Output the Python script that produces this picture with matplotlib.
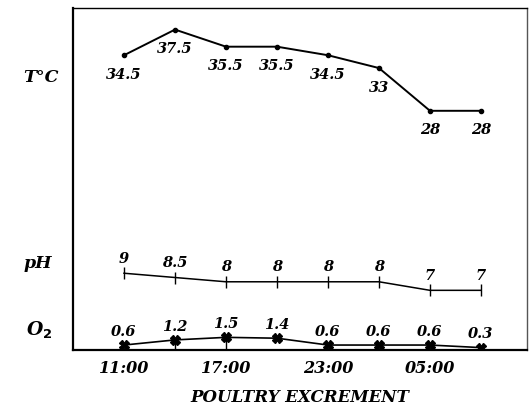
import matplotlib.pyplot as plt
import numpy as np

times = ['11:00', '14:00', '17:00', '20:00', '23:00', '02:00', '05:00', '08:00']
temp = [34.5, 37.5, 35.5, 35.5, 34.5, 33, 28, 28]
ph = [9, 8.5, 8, 8, 8, 8, 7, 7]
o2 = [0.6, 1.2, 1.5, 1.4, 0.6, 0.6, 0.6, 0.3]
temp_labels = ['34.5', '37.5', '35.5', '35.5', '34.5', '33', '28', '28']
ph_labels = ['9', '8.5', '8', '8', '8', '8', '7', '7']
o2_labels = ['0.6', '1.2', '1.5', '1.4', '0.6', '0.6', '0.6', '0.3']

font = dict(family='DejaVu Serif', weight='bold', style='italic')

fig = plt.figure(figsize=(5.29, 4.11), dpi=100)
ax = fig.add_axes([0.138, 0.148, 0.858, 0.832])
x = np.arange(len(times))

ax.plot(x, temp, color='black', lw=1.4, marker='o', ms=3)
ax.plot(x, ph, color='black', lw=1.1, marker='|', ms=9, mew=1.0)
ax.plot(x, o2, color='black', lw=1.2, marker='X', ms=7)
# drop lines under the raised O2 points
ax.vlines(x[1:3], 0, o2[1:3], color='black', lw=1.0)

for xi, v, s in zip(x, temp, temp_labels):
    ax.annotate(s, (xi, v), xytext=(0, -14), textcoords='offset points',
                ha='center', va='center', fontsize=10.5, **font)
for xi, v, s in zip(x, ph, ph_labels):
    ax.annotate(s, (xi, v), xytext=(0, 10.5), textcoords='offset points',
                ha='center', va='center', fontsize=10.5, **font)
for xi, v, s in zip(x, o2, o2_labels):
    ax.annotate(s, (xi, v), xytext=(0, 9.5), textcoords='offset points',
                ha='center', va='center', fontsize=10.5, **font)

ax.set_xlim(-1, 7.9)
ax.set_ylim(0, 40)
ax.set_xticks(x[::2])
ax.set_xticklabels(times[::2], fontsize=11.5, **font)
ax.tick_params(axis='x', length=0, pad=7)
ax.set_yticks([])
for side in ['left', 'bottom']:
    ax.spines[side].set_linewidth(1.6)
ax.spines['top'].set_linewidth(1.0)
ax.spines['right'].set_linewidth(1.0)
ax.spines['right'].set_color('#555555')

fig.text(0.078, 0.812, 'T°C', ha='center', va='center', fontsize=12.5, **font)
fig.text(0.072, 0.36, 'pH', ha='center', va='center', fontsize=12.5, **font)
fig.text(0.074, 0.197, r'O$_{\mathbf{2}}$', ha='center', va='center', fontsize=13.5, **font)
fig.text(0.567, 0.032, 'POULTRY EXCREMENT', ha='center', va='center', fontsize=12, **font)

plt.savefig('out.png', dpi=100)
